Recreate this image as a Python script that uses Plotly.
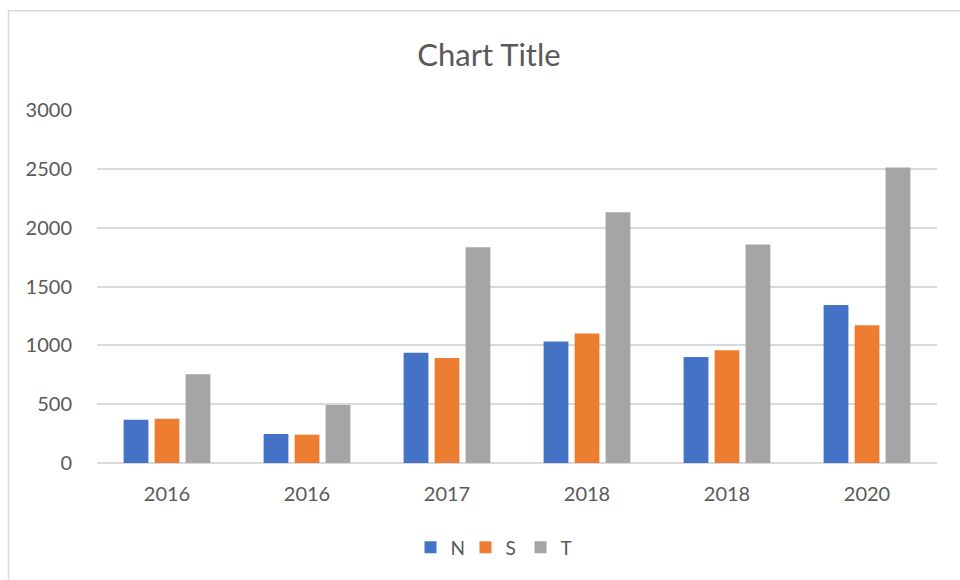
import plotly.graph_objects as go

categories = ["2016", "2016", "2017", "2018", "2018", "2020"]
series_names = ["N", "S", "T"]
n_values = [368, 247, 938, 1032, 900, 1343]
s_values = [377, 241, 893, 1100, 959, 1171]
t_values = [755, 493, 1834, 2130, 1857, 2512]
colors = ["#4472C4", "#ED7D31", "#A5A5A5"]
y_ticks = [0, 500, 1000, 1500, 2000, 2500, 3000]

x_pos = list(range(len(categories)))
font_family = "Lato, 'Open Sans', sans-serif"
text_color = "#595959"

fig = go.Figure()
for name, vals, col in zip(series_names, [n_values, s_values, t_values], colors):
    fig.add_trace(go.Bar(x=x_pos, y=vals, name=name, marker=dict(color=col, line=dict(width=0))))

W, H = 960, 580
L, R, T, B = 97, 937, 110, 463.5
pw, ph = R - L, B - T

def px_x(p):
    return (p - L) / pw

def px_y(p):
    return (B - p) / ph

fig.update_layout(
    width=W, height=H,
    margin=dict(l=L, r=W - R, t=T, b=H - B, pad=0),
    paper_bgcolor="white", plot_bgcolor="white",
    barmode="group", bargap=0.336, bargroupgap=0.2,
    font=dict(family=font_family, color=text_color, size=20),
    title=dict(text="Chart Title", x=489 / W, xanchor="center", xref="container",
               y=1 - 55 / H, yanchor="middle", yref="container",
               font=dict(size=31, color=text_color, family=font_family)),
    showlegend=True,
    legend=dict(orientation="h", x=px_x(493), xanchor="center", y=px_y(548), yanchor="middle",
                font=dict(size=19, color=text_color), itemwidth=30, traceorder="normal",
                entrywidth=10, entrywidthmode="pixels"),
    xaxis=dict(tickvals=x_pos, ticktext=categories, range=[-0.5, len(categories) - 0.5],
               showgrid=False, showline=False, zeroline=False, ticks="",
               ticklabelstandoff=17, tickfont=dict(size=20, color=text_color)),
    yaxis=dict(range=[0, 3000], tickvals=y_ticks, showgrid=True, gridcolor="#D9D9D9", gridwidth=1.5,
               zeroline=True, zerolinecolor="#D9D9D9", zerolinewidth=1.5, showline=False, ticks="",
               ticklabelstandoff=24, tickfont=dict(size=20, color=text_color)),
    shapes=[dict(type="rect", xref="paper", yref="paper",
                 x0=px_x(8.5), x1=px_x(W + 20), y0=px_y(H + 20), y1=px_y(10.5),
                 line=dict(color="#D9D9D9", width=1.5), fillcolor="rgba(0,0,0,0)", layer="below")],
)

fig.write_html("out.html", config={"displayModeBar": False},
               post_script="document.body.style.margin='0';document.body.style.overflow='hidden';")
